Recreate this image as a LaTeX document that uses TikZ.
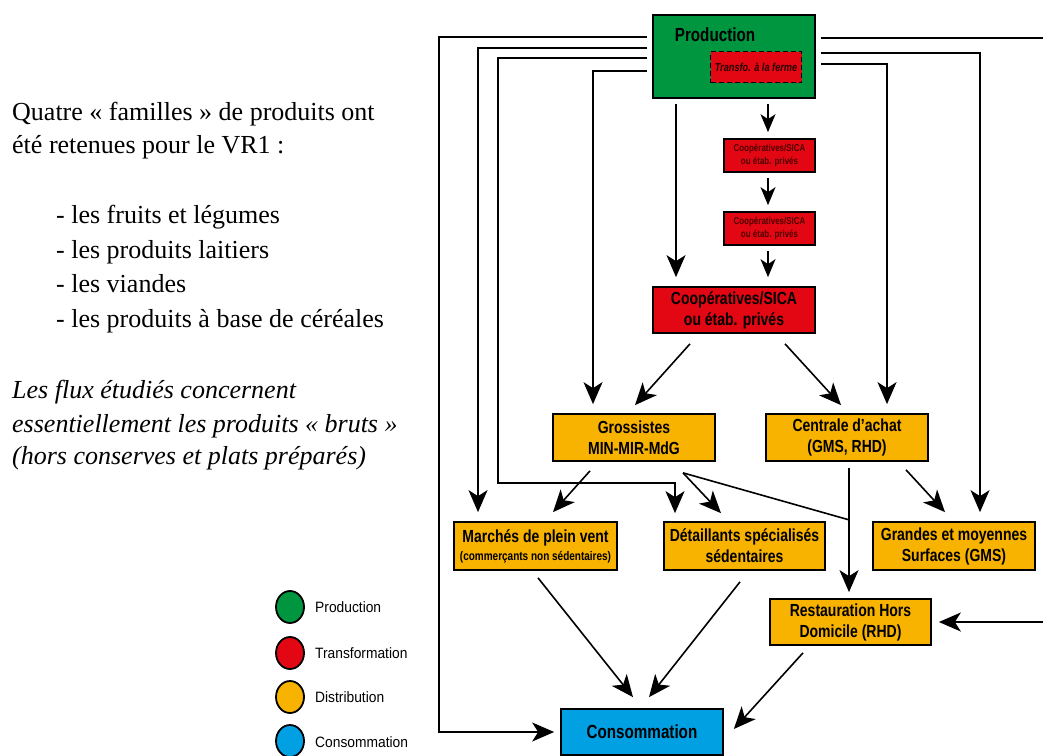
\documentclass[tikz,border=0pt]{standalone}
\usepackage{fontspec}
\setmainfont{Liberation Serif}
\newfontfamily\bxf[FakeStretch=0.8]{Liberation Sans}
\newfontfamily\lgf[FakeStretch=0.92]{Liberation Sans}
\usetikzlibrary{arrows.meta,calc}
\definecolor{cgreen}{RGB}{0,150,64}
\definecolor{cred}{RGB}{227,6,19}
\definecolor{corange}{RGB}{248,178,0}
\definecolor{cblue}{RGB}{0,160,227}
\definecolor{dred}{RGB}{80,0,0}
\begin{document}
\begin{tikzpicture}[x=1pt,y=-1pt,
  box/.style={draw=black,line width=1.7pt,inner sep=0pt,align=center,
    font=\bxf\bfseries\fontsize{17.5}{21}\selectfont},
  tiny/.style={font=\bxf\bfseries\fontsize{10}{12.5}\selectfont,text=dred},
  conn/.style={line width=1.6pt,line join=miter},
  arr/.style={conn,-{Stealth[length=22pt,width=19pt,inset=6pt]}},
  sarr/.style={conn,-{Stealth[length=18pt,width=15pt,inset=5pt]}},
  intro/.style={anchor=base west,inner sep=0pt,font=\fontsize{26}{33}\selectfont},
  introit/.style={intro,font=\itshape\fontsize{26}{33}\selectfont},
  legc/.style={line width=1.8pt,draw=black},
  legt/.style={anchor=west,inner sep=0pt,font=\lgf\fontsize{15}{17}\selectfont}]
\useasboundingbox (0,0) rectangle (1043,755);
\clip (0,0) rectangle (1043,755);

% left text
\node[intro] (t1) at (12,120) {Quatre « familles » de produits ont};
\node[intro] (t2) at (12,153) {été retenues pour le VR1 :};
\node[intro] (l1) at (56,223) {- les fruits et légumes};
\node[intro] (l2) at (56,258) {- les produits laitiers};
\node[intro] (l3) at (56,292) {- les viandes};
\node[intro] (l4) at (56,327) {- les produits à base de céréales};
\node[introit] (i1) at (12,398) {Les flux étudiés concernent};
\node[introit] (i2) at (12,432) {essentiellement les produits « bruts »};
\node[introit] (i3) at (12,464) {(hors conserves et plats préparés)};

% legend
\draw[legc,fill=cgreen] (290,607) ellipse [x radius=14,y radius=16];
\draw[legc,fill=cred] (290,653) ellipse [x radius=14,y radius=16];
\draw[legc,fill=corange] (290,697) ellipse [x radius=14,y radius=16];
\draw[legc,fill=cblue] (290,741) ellipse [x radius=14,y radius=16];
\node[legt] (lg1) at (315,607) {Production};
\node[legt] (lg2) at (315,653) {Transformation};
\node[legt] (lg3) at (315,697) {Distribution};
\node[legt] (lg4) at (315,742) {Consommation};

% boxes
\node[box,fill=cgreen,minimum width=162,minimum height=83] (prod) at (734,56.5) {};
\node[box,anchor=center,draw=none,font=\bxf\bfseries\fontsize{19}{21}\selectfont] (prodt) at (715,35) {Production};
\node[draw=black,fill=cred,line width=1.7pt,dash pattern=on 5pt off 3pt,
  minimum width=91,minimum height=31,inner sep=0pt,
  font=\bxf\bfseries\itshape\fontsize{11.5}{13}\selectfont,text=black!85!red] (ferme) at (756,67) {Transfo. à la ferme};
\node[box,fill=cred,minimum width=91,minimum height=33,tiny] (sr1) at (769.5,155.5) {Coopératives/SICA\\ou étab. privés};
\node[box,fill=cred,minimum width=91,minimum height=33,tiny] (sr2) at (769.5,228.5) {Coopératives/SICA\\ou étab. privés};
\node[box,fill=cred,minimum width=162,minimum height=46] (bigred) at (734,310) {Coopératives/SICA\\ou étab. privés};
\node[box,fill=corange,minimum width=162,minimum height=47] (gross) at (634,437.5) {Grossistes\\MIN-MIR-MdG};
\node[box,fill=corange,minimum width=162,minimum height=47] (centrale) at (847,437.5) {Centrale d’achat\\(GMS, RHD)};
\node[box,fill=corange,minimum width=163,minimum height=48] (marches) at (535.5,546) {Marchés de plein vent\\[-3pt]{\fontsize{12.5}{13}\selectfont(commerçants non sédentaires)}};
\node[box,fill=corange,minimum width=161,minimum height=48] (detail) at (744.5,546) {Détaillants spécialisés\\sédentaires};
\node[box,fill=corange,minimum width=162,minimum height=48] (gms) at (954,546) {Grandes et moyennes\\Surfaces (GMS)};
\node[box,fill=corange,minimum width=161,minimum height=46] (rhd) at (850.5,622) {Restauration Hors\\Domicile (RHD)};
\node[box,fill=cblue,minimum width=162,minimum height=46,font=\bxf\bfseries\fontsize{19}{21}\selectfont] (conso) at (642,732) {Consommation};

% connectors: left bundle
\draw[arr] ($(prod.west)+(-5,-19.5)$) -- (439,37) -- (439,732) -- ($(conso.west)+(-6,0)$);
\draw[arr] ($(prod.west)+(-5,-8.5)$) -| ($(marches.north)+(-57.5,-9)$);
\draw[arr] ($(prod.west)+(-5,1.5)$) -- (498,58) -- (498,483) -| ($(detail.north)+(-69.5,-8)$);
\draw[arr] ($(prod.west)+(-5,14.5)$) -| ($(gross.north)+(-41,-9)$);
% right bundle
\draw[arr] ($(prod.east)+(5,-18.5)$) -- (1052,38) |- ($(rhd.east)+(7,0)$);
\draw[arr] ($(prod.east)+(5,-3.5)$) -| ($(gms.north)+(26,-9)$);
\draw[arr] ($(prod.east)+(5,7.5)$) -| ($(centrale.north)+(40,-9)$);
% vertical chain
\draw[arr] ($(prod.south)+(-58,5)$) -- ($(bigred.north)+(-58,-9)$);
\draw[sarr] ($(prod.south)+(34,5)$) -- ($(sr1.north)+(-1.5,-6)$);
\draw[sarr] ($(sr1.south)+(-1.5,5)$) -- ($(sr2.north)+(-1.5,-6)$);
\draw[sarr] ($(sr2.south)+(-1.5,5)$) -- ($(bigred.north)+(34,-9)$);
% diagonals
\draw[arr] ($(bigred.south)+(-44,10)$) -- ($(gross.north)+(1,-8)$);
\draw[arr] ($(bigred.south)+(51,10)$) -- ($(centrale.north)+(-6,-8)$);
\draw[arr] ($(gross.south)+(-44,9)$) -- ($(marches.north)+(17.5,-9)$);
\draw[arr] ($(gross.south)+(49,11)$) -- ($(detail.north)+(-23.5,-8)$);
\coordinate (cr) at ($(centrale.south)+(2,0)$);
\coordinate (join) at ($(cr)+(0,58)$);
\draw[conn] ($(gross.south)+(49,11)$) -- (join);
\draw[arr] ($(cr)+(0,6)$) -- ($(cr |- rhd.north)+(0,-6)$);
\draw[arr] ($(centrale.south)+(59,8)$) -- ($(gms.north)+(-9,-9)$);
\draw[arr] ($(marches.south)+(2.5,7)$) -- ($(conso.north)+(-9,-11)$);
\draw[arr] ($(detail.south)+(-4.5,11)$) -- ($(conso.north)+(7,-11)$);
\draw[arr] ($(rhd.south)+(-47.5,7)$) -- ($(conso.east)+(10,-3)$);
\end{tikzpicture}
\end{document}
